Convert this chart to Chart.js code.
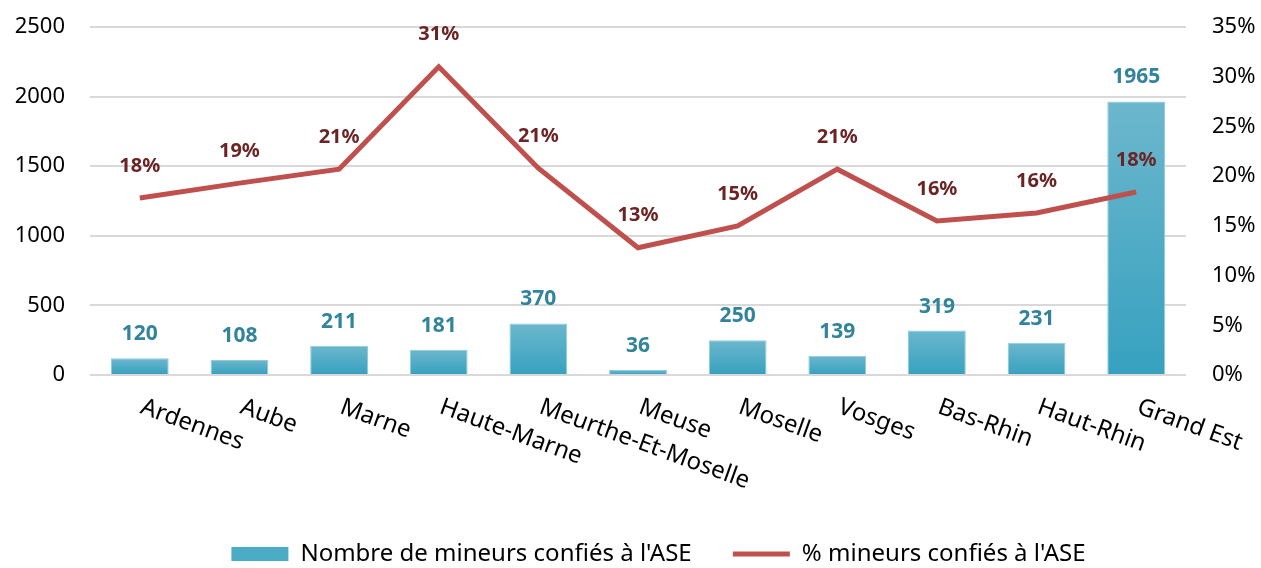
<!DOCTYPE html>
<html>
<head>
<meta charset="utf-8">
<script src="https://cdn.jsdelivr.net/npm/chart.js@4.4.1/dist/chart.umd.min.js"></script>
<style>
  html, body { margin: 0; padding: 0; background: #fff; }
  #wrap { width: 1261px; height: 568px; }
</style>
</head>
<body>
<div id="wrap"><canvas id="chart" width="1261" height="568"></canvas></div>
<script>
const departements = ['Ardennes', 'Aube', 'Marne', 'Haute-Marne', 'Meurthe-Et-Moselle', 'Meuse',
  'Moselle', 'Vosges', 'Bas-Rhin', 'Haut-Rhin', 'Grand Est'];
const nbMineurs = [120, 108, 211, 181, 370, 36, 250, 139, 319, 231, 1965];
// percentages
const pctMineurs = [17.8, 19.3, 20.7, 31.0, 20.8, 12.8, 15.0, 20.7, 15.5, 16.3, 18.4];
const pctLabels = ['18%', '19%', '21%', '31%', '21%', '13%', '15%', '21%', '16%', '16%', '18%'];
const leftTicks = [0, 500, 1000, 1500, 2000, 2500];
const rightTicks = [0, 5, 10, 15, 20, 25, 30, 35];

const FONT = "'Noto Sans', 'Open Sans', sans-serif";

function barGradient(context) {
  const chart = context.chart;
  const y = chart.scales.y;
  if (!y || !chart.chartArea) return '#4bacc6';
  const v = context.raw;
  const top = y.getPixelForValue(v);
  const base = y.getPixelForValue(0);
  if (!isFinite(top) || top === base) return '#4bacc6';
  const g = chart.ctx.createLinearGradient(0, top, 0, base);
  g.addColorStop(0, '#6cb7cd');
  g.addColorStop(1, '#36a1bf');
  return g;
}

// value labels + rotated category labels
const labelPlugin = {
  id: 'labelPlugin',
  afterLayout(chart) {
    // legend sits a bit right of centre in the original
    chart.legend.left += 28;
    chart.legend.right += 28;
  },
  afterDatasetsDraw(chart) {
    const ctx = chart.ctx;
    ctx.save();
    ctx.font = "bold 21px " + FONT;
    ctx.textAlign = 'center';
    ctx.textBaseline = 'middle';

    const barMeta = chart.getDatasetMeta(0);
    ctx.fillStyle = '#31849b';
    barMeta.data.forEach((bar, i) => {
      ctx.fillText(String(nbMineurs[i]), bar.x, bar.y - 24);
    });

    const lineMeta = chart.getDatasetMeta(1);
    ctx.fillStyle = '#6b2424';
    ctx.font = "bold 20px " + FONT;
    lineMeta.data.forEach((pt, i) => {
      ctx.fillText(pctLabels[i], pt.x, pt.y - 32);
    });

    // x labels, rotated clockwise like the original
    const xs = chart.scales.x;
    ctx.font = "24px " + FONT;
    ctx.fillStyle = '#000';
    ctx.textAlign = 'left';
    ctx.textBaseline = 'top';
    departements.forEach((name, i) => {
      const px = xs.getPixelForTick(i);
      ctx.save();
      ctx.translate(px + 6, chart.chartArea.bottom + 20);
      ctx.rotate(20 * Math.PI / 180);
      ctx.fillText(name, 0, 0);
      ctx.restore();
    });
    ctx.restore();
  }
};

const noTopPad = scale => { scale.paddingTop = 0; scale.paddingBottom = 0; };

const config = {
  data: {
    labels: departements,
    datasets: [
      {
        type: 'bar',
        label: "Nombre de mineurs confiés à l'ASE",
        data: nbMineurs,
        yAxisID: 'y',
        backgroundColor: barGradient,
        borderColor: '#8fcbdc',
        borderWidth: 1,
        barPercentage: 0.58,
        categoryPercentage: 1,
        order: 2
      },
      {
        type: 'line',
        label: '% mineurs confiés à l\'ASE',
        data: pctMineurs,
        yAxisID: 'y1',
        borderColor: '#c0504d',
        backgroundColor: '#c0504d',
        borderWidth: 5,
        pointRadius: 0,
        tension: 0,
        order: 1
      }
    ]
  },
  options: {
    responsive: false,
    animation: false,
    layout: { padding: { top: 27, left: 0, right: 0, bottom: -8 } },
    plugins: {
      tooltip: { enabled: false },
      legend: {
        position: 'bottom',
        labels: {
          font: { family: FONT, size: 24 },
          color: '#000',
          usePointStyle: true,
          pointStyleWidth: 57,
          boxHeight: 14,
          padding: 10,
          generateLabels(chart) {
            return chart.data.datasets.map((ds, i) => ({
              text: ds.label + (i === 0 ? '     ' : ''),
              fillStyle: i === 0 ? '#4bacc6' : '#c0504d',
              strokeStyle: i === 0 ? '#4bacc6' : '#c0504d',
              lineWidth: i === 0 ? 0 : 5,
              pointStyle: i === 0 ? 'rect' : 'line',
              hidden: false,
              datasetIndex: i
            }));
          }
        }
      }
    },
    scales: {
      x: {
        grid: { display: false },
        border: { display: false },
        ticks: { display: false },
        afterFit(scale) { scale.height = 157; scale.paddingLeft = 0; scale.paddingRight = 0; }
      },
      y: {
        position: 'left',
        min: 0,
        max: 2500,
        afterBuildTicks(scale) { scale.ticks = leftTicks.map(v => ({ value: v })); },
        afterFit(scale) { scale.width = 90; noTopPad(scale); },
        grid: { color: '#d9d9d9', lineWidth: 2, drawTicks: false },
        border: { display: false },
        ticks: {
          font: { family: FONT, size: 22 },
          color: '#000',
          padding: 25,
          callback: v => String(v)
        }
      },
      y1: {
        position: 'right',
        min: 0,
        max: 35,
        afterBuildTicks(scale) { scale.ticks = rightTicks.map(v => ({ value: v })); },
        afterFit(scale) { scale.width = 75; noTopPad(scale); },
        grid: { display: false, drawTicks: false },
        border: { display: false },
        ticks: {
          font: { family: FONT, size: 22 },
          color: '#000',
          padding: 26,
          callback: v => v + '%'
        }
      }
    }
  },
  plugins: [labelPlugin]
};

const myChart = new Chart(document.getElementById('chart'), config);
</script>
</body>
</html>
